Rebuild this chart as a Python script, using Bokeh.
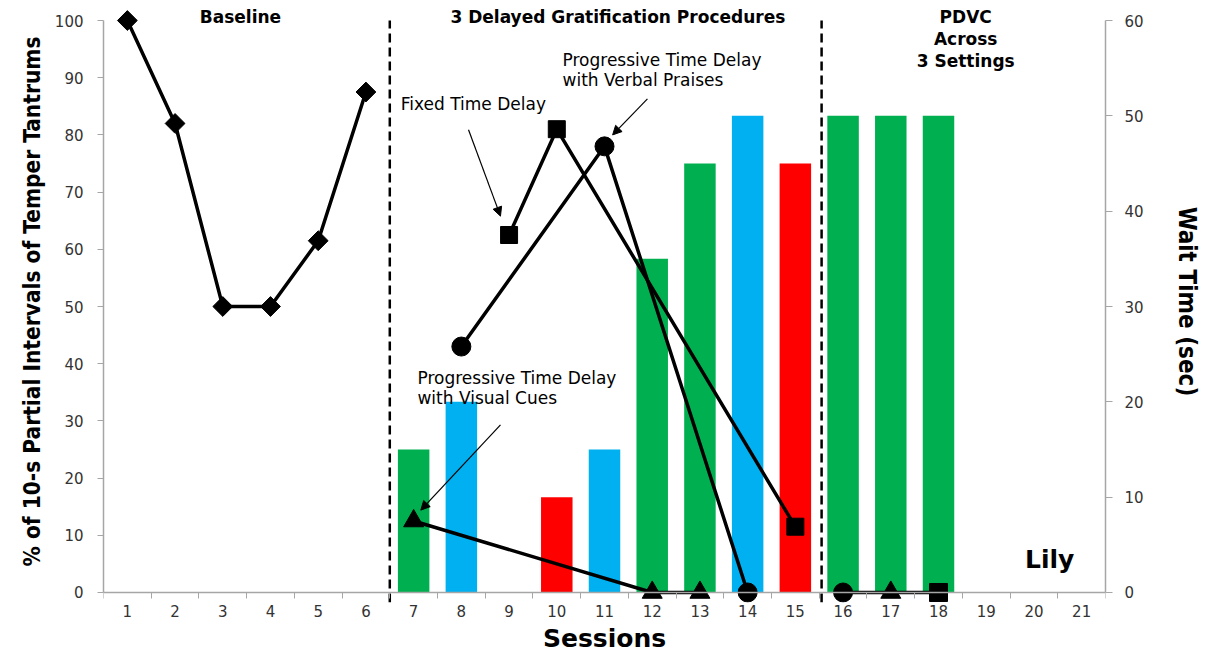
import math
from bokeh.plotting import figure
from bokeh.models import (Range1d, LinearAxis, FixedTicker, Label, Arrow,
                          NormalHead, ColumnDataSource)
from bokeh.embed import file_html
from bokeh.resources import INLINE

# ---------------- data ----------------
sessions = list(range(1, 22))
session_labels = [str(s) for s in sessions]

baseline_x = [1, 2, 3, 4, 5, 6]
baseline_y = [100, 82, 50, 50, 61.5, 87.5]

fixed_x = [9, 10, 15]
fixed_y = [62.5, 81, 11.5]

verbal_x = [8, 11, 14]
verbal_y = [43, 78, 0]

visual_x = [7, 12, 13]
visual_y = [12.5, 0, 0]

pdvc_x = [16, 17, 18]
pdvc_y = [0, 0, 0]
pdvc_markers = ["circle", "triangle", "square"]

bar_x = [7, 8, 10, 11, 12, 13, 14, 15, 16, 17, 18]
bar_wait = [15, 20, 10, 15, 35, 45, 50, 45, 50, 50, 50]
bar_kind = ["visual", "verbal", "fixed", "verbal", "visual", "visual", "verbal",
            "fixed", "visual", "visual", "visual"]
kind_colors = {"visual": "#00B050", "verbal": "#00B0F0", "fixed": "#FF0000"}

phase_changes = [6.5, 15.55]

left_ticks = list(range(0, 101, 10))
right_ticks = list(range(0, 61, 10))

# ---------------- figure ----------------
Y0 = -1.75
p = figure(width=1205, height=656, output_backend="svg", toolbar_location=None,
           x_range=Range1d(0.5, 21.5), y_range=Range1d(Y0, 103.5),
           min_border_left=103, min_border_right=100, min_border_top=0,
           min_border_bottom=54)
p.outline_line_color = None
p.xgrid.visible = False
p.ygrid.visible = False
p.background_fill_color = "white"
p.extra_y_ranges = {"wait": Range1d(Y0 * 0.6, 62.1)}

AX = "#A6A6A6"
TICKFONT = "DejaVu Sans"
NARROW = "DejaVu Sans Condensed"

# x axis labels (at frame bottom)
xa = p.xaxis[0]
xa.ticker = FixedTicker(ticks=sessions)
xa.major_label_overrides = {s: l for s, l in zip(sessions, session_labels)}
xa.major_tick_line_color = None
xa.minor_tick_line_color = None
xa.major_tick_out = 0
xa.major_tick_in = 0
xa.axis_line_color = None
xa.major_label_text_font = TICKFONT
xa.major_label_text_font_size = "15px"
xa.major_label_text_color = "#333333"
xa.major_label_standoff = 2
xa.axis_label = "Sessions"
xa.axis_label_text_font = "DejaVu Sans"
xa.axis_label_text_font_style = "bold"
xa.axis_label_text_font_size = "25px"
xa.axis_label_text_color = "black"
xa.axis_label_standoff = 4

# x axis line with category-boundary ticks, drawn at y = 0
xline = LinearAxis(fixed_location=0,
                   ticker=FixedTicker(ticks=[],
                                      minor_ticks=[s - 0.5 for s in sessions] + [sessions[-1] + 0.5]))
xline.axis_line_color = AX
xline.axis_line_width = 1.5
xline.major_tick_line_color = None
xline.major_tick_out = 0
xline.major_tick_in = 0
xline.minor_tick_line_color = AX
xline.minor_tick_out = 0
xline.minor_tick_in = 6
xline.major_label_standoff = 0
xline.major_label_text_font_size = "0px"
p.add_layout(xline, "above")

# left y axis
ya = p.yaxis[0]
ya.ticker = FixedTicker(ticks=left_ticks)
ya.bounds = (0, 100)
ya.minor_tick_line_color = None
ya.major_tick_out = 6
ya.major_tick_in = 0
ya.major_tick_line_color = AX
ya.axis_line_color = AX
ya.axis_line_width = 1.5
ya.major_label_text_font = TICKFONT
ya.major_label_text_font_size = "15px"
ya.major_label_text_color = "#333333"
ya.major_label_standoff = 14
ya.axis_label = "% of 10-s Partial Intervals of Temper Tantrums"
ya.axis_label_text_font = NARROW
ya.axis_label_text_font_style = "bold"
ya.axis_label_text_font_size = "22.5px"
ya.axis_label_text_color = "black"
ya.axis_label_standoff = 7

# right y axis
ra = LinearAxis(y_range_name="wait", ticker=FixedTicker(ticks=right_ticks),
                bounds=(0, 60))
ra.minor_tick_line_color = None
ra.major_tick_out = 7
ra.major_tick_in = 0
ra.major_tick_line_color = AX
ra.axis_line_color = AX
ra.axis_line_width = 1.5
ra.major_label_text_font = TICKFONT
ra.major_label_text_font_size = "15px"
ra.major_label_text_color = "#333333"
ra.major_label_standoff = 12
ra.axis_label = "Wait Time (sec)"
ra.axis_label_text_font = NARROW
ra.axis_label_text_font_style = "bold"
ra.axis_label_text_font_size = "24px"
ra.axis_label_text_color = "black"
ra.axis_label_standoff = 26
p.add_layout(ra, "right")

# bars
bar_src = ColumnDataSource(dict(x=bar_x, top=bar_wait,
                                color=[kind_colors[k] for k in bar_kind]))
p.vbar(x="x", top="top", bottom=0, width=0.66, color="color", source=bar_src,
       y_range_name="wait", line_color=None)

# phase lines
p.segment(x0=phase_changes, x1=phase_changes, y0=[Y0] * 2, y1=[100] * 2,
          line_color="black", line_width=2.5, line_dash="9 5")

LW = 3.5
# baseline
p.line(baseline_x, baseline_y, line_color="black", line_width=LW)
p.scatter(baseline_x, baseline_y, marker="square", angle=math.pi / 4, size=14,
          color="black")
# fixed time delay
p.line(fixed_x, fixed_y, line_color="black", line_width=LW)
p.scatter(fixed_x, fixed_y, marker="square", size=17, color="black")
# verbal praises
p.line(verbal_x, verbal_y, line_color="black", line_width=LW)
p.scatter(verbal_x, verbal_y, marker="circle", size=19, color="black")
# visual cues
p.line(visual_x, visual_y, line_color="black", line_width=LW)
p.scatter(visual_x, visual_y, marker="triangle", size=20, color="black")
# PDVC
p.line(pdvc_x, pdvc_y, line_color="black", line_width=LW)
p.scatter(pdvc_x, pdvc_y, marker=pdvc_markers, size=[19, 20, 18], color="black")


def label(x, y, text, size="17px", bold=True, align="center", font="DejaVu Sans"):
    p.add_layout(Label(x=x, y=y, text=text, text_align=align,
                       text_baseline="middle", text_font=font,
                       text_font_size=size,
                       text_font_style="bold" if bold else "normal",
                       text_color="black"))


# phase titles
label(3.37, 100.6, "Baseline")
label(11.28, 100.6, "3 Delayed Gratification Procedures")
label(18.57, 100.6, "PDVC")
label(18.57, 96.8, "Across")
label(18.57, 92.9, "3 Settings")
label(20.33, 5.7, "Lily", size="25px")

# condition annotations
label(6.73, 85.4, "Fixed Time Delay", size="17px", bold=False, align="left")
label(10.12, 93.1, "Progressive Time Delay", size="17px", bold=False, align="left")
label(10.12, 89.6, "with Verbal Praises", size="17px", bold=False, align="left")
label(7.08, 37.5, "Progressive Time Delay", size="17px", bold=False, align="left")
label(7.08, 34.0, "with Visual Cues", size="17px", bold=False, align="left")

for (x0, y0, x1, y1) in [(8.15, 80.9, 8.82, 65.8), (11.9, 86.3, 11.17, 80.0),
                         (8.82, 29.3, 7.15, 14.4)]:
    p.add_layout(Arrow(x_start=x0, y_start=y0, x_end=x1, y_end=y1,
                       line_color="black", line_width=1.2,
                       end=NormalHead(size=9, fill_color="black",
                                      line_color="black")))

open("out.html", "w").write(file_html(p, INLINE))
